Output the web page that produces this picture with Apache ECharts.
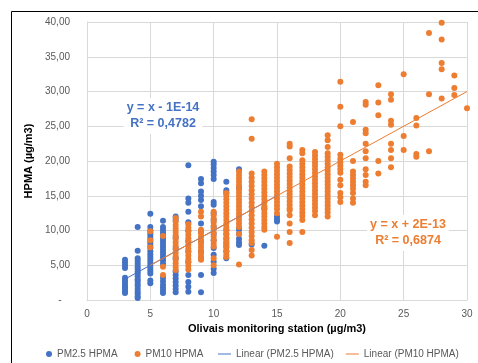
<!DOCTYPE html>
<html>
<head>
<meta charset="utf-8">
<script src="https://cdn.jsdelivr.net/npm/echarts@6/dist/echarts.min.js"></script>
<style>
  html, body { margin: 0; padding: 0; background: #fff; }
  #main { width: 478px; height: 363px; }
</style>
</head>
<body>
<div id="main"></div>
<script>
// station value (x) for each column of points
var pm25X = [3, 4, 5, 6, 7, 8, 9, 10, 11, 12, 13, 14, 15];
var pm25Y = [
  [5.8, 5.4, 5.0, 4.6, 3.2, 2.8, 2.5, 2.1, 1.8, 1.5, 1.2, 1.0],
  [10.5, 7.1, 6.0, 5.6, 5.2, 4.8, 4.5, 4.1, 3.8, 3.4, 3.0, 2.7, 2.3, 2.0, 1.6, 1.2, 0.9, 0.5, 0.3],
  [12.4, 10.5, 10.0, 9.6, 9.2, 8.8, 8.3, 7.9, 7.5, 7.0, 6.6, 6.2, 5.8, 5.4, 5.0, 4.6, 4.2, 3.8, 2.8, 2.4],
  [11.4, 10.5, 10.1, 9.7, 9.3, 8.9, 8.5, 8.1, 7.7, 7.3, 6.9, 6.5, 6.1, 5.7, 5.2, 3.2, 2.7, 2.2, 1.8, 1.4, 1.0],
  [12.0, 11.5, 9.0, 7.5, 6.0, 4.1, 3.6, 3.1, 2.6, 2.1, 1.6, 1.1],
  [19.4, 14.6, 14.0, 12.7, 11.2, 10.0, 8.5, 7.0, 5.5, 3.6, 2.6, 1.9, 1.2],
  [17.4, 16.8, 15.6, 15.0, 14.4, 13.5, 11.0, 9.8, 8.5, 7.0, 6.0, 3.6, 1.1],
  [19.9, 19.5, 19.0, 18.5, 18.0, 17.4, 14.1, 13.7, 12.5, 11.5, 10.5, 9.5, 8.6, 7.5, 6.5, 5.5, 4.5, 3.9],
  [17.0, 15.8, 15.4, 10.1, 9.5, 8.8, 8.2, 7.7, 7.0, 6.0],
  [18.8, 16.1, 10.1, 9.5, 8.8, 8.3, 7.9],
  [8.0],
  [13.2, 7.8],
  [12.0, 11.6, 11.3]
];

var pm10X = [5, 6, 7, 8, 9, 10, 11, 12, 13, 14, 15, 16, 17, 18, 19, 20, 21, 22, 23, 24, 25, 26, 27, 28, 29, 30];
var pm10Y = [
  [9.9, 8.6, 7.6],
  [9.2, 4.8, 3.6],
  [11.8, 11.3, 10.8, 10.3, 9.8, 9.3, 8.8, 8.3, 7.8, 7.3, 6.8, 6.3, 5.8, 5.3, 4.8, 4.3],
  [10.9, 10.4, 9.9, 9.4, 8.9, 8.4, 7.9, 7.4, 6.9, 6.4, 5.9, 5.4, 4.9, 4.4],
  [12.7, 12.0, 10.1, 9.6, 9.1, 8.6, 8.1, 7.6, 7.1, 6.6, 6.1, 5.8],
  [12.7, 12.2, 11.7, 11.2, 10.7, 10.2, 9.7, 9.1, 8.6, 8.1, 7.7, 6.0, 5.0],
  [15.4, 15.0, 14.5, 14.0, 13.5, 13.0, 12.5, 12.0, 11.5, 11.0, 10.5, 10.0, 9.5, 9.0, 8.5, 8.0, 7.5, 7.0, 6.5, 6.2],
  [18.5, 18.0, 17.5, 17.0, 16.5, 16.0, 15.5, 15.0, 14.5, 14.0, 13.5, 13.0, 12.5, 12.0, 11.5, 11.0, 10.5, 9.5, 5.1],
  [26.0, 23.2, 18.2, 17.6, 17.0, 16.4, 15.8, 15.2, 14.6, 14.0, 13.4, 12.8, 12.2, 11.6, 11.0, 10.4, 9.8, 9.2, 8.6, 8.2, 7.2, 6.4],
  [18.5, 18.0, 17.5, 17.0, 16.5, 16.0, 15.5, 15.0, 14.5, 14.0, 13.5, 13.0, 12.5, 12.0, 11.5, 11.0, 10.5, 10.1],
  [19.6, 19.1, 18.6, 18.1, 17.6, 17.1, 16.6, 16.1, 15.6, 15.1, 14.6, 14.1, 13.6, 13.1, 12.5, 9.1],
  [22.5, 22.1, 20.4, 19.2, 18.7, 18.2, 17.7, 17.2, 16.7, 16.2, 15.7, 15.2, 14.7, 14.2, 13.7, 13.2, 12.9, 12.2, 11.0, 9.8, 8.2],
  [21.6, 21.1, 20.1, 19.6, 19.1, 18.6, 18.1, 17.6, 17.1, 16.6, 16.1, 15.6, 15.1, 14.6, 14.1, 13.6, 13.1, 12.6, 12.1, 11.5, 9.8],
  [21.3, 20.8, 20.3, 19.8, 19.3, 18.8, 18.3, 17.8, 17.3, 16.8, 16.3, 15.8, 15.3, 14.8, 14.3, 13.8, 13.3, 12.8, 12.2],
  [23.7, 23.0, 22.0, 21.1, 20.6, 20.1, 19.6, 19.1, 18.6, 18.1, 17.6, 17.1, 16.6, 16.1, 15.6, 15.1, 14.6, 14.1, 13.6, 13.1, 12.6, 12.0],
  [31.4, 27.8, 25.0, 20.9, 20.3, 19.8, 19.3, 18.8, 18.3, 17.3, 16.5, 15.4, 14.8, 14.1],
  [25.6, 20.0, 18.5, 18.0, 17.5, 17.0, 16.5, 16.0, 15.4, 14.6, 14.0],
  [28.5, 28.1, 24.5, 24.0, 22.5, 21.4, 20.4, 18.8, 18.0, 17.0, 16.5],
  [30.9, 28.4, 26.6, 20.0, 18.2],
  [29.6, 28.8, 25.8, 25.2, 22.5, 21.6, 20.4, 19.1],
  [32.5, 23.6, 21.6],
  [26.2, 25.1, 21.0, 20.6],
  [38.4, 29.6, 21.4],
  [39.9, 37.5, 34.1, 33.2, 29.0],
  [32.3, 30.5, 29.5],
  [27.6]
];

// trendline fits as shown on the chart
var fit25 = { slope: 1, intercept: -1e-14, r2: '0,4782' };
var fit10 = { slope: 1, intercept: 2e-13, r2: '0,6874' };

function toPoints(xs, ys) {
  var out = [];
  xs.forEach(function (x, i) {
    ys[i].forEach(function (y) { out.push([x, y]); });
  });
  return out;
}
function trend(xs, fit) {
  var a = Math.min.apply(null, xs), b = Math.max.apply(null, xs);
  return [[a, fit.slope * a + fit.intercept], [b, fit.slope * b + fit.intercept]];
}

var blue = '#4472C4', orange = '#ED7D31', grey = '#595959';
var myChart = echarts.init(document.getElementById('main'));

var option = {
  backgroundColor: '#fff',
  animation: false,
  textStyle: { fontFamily: 'Liberation Sans, Arial, sans-serif' },
  grid: { left: 87, right: 11, top: 22, bottom: 63 },
  xAxis: {
    type: 'value', min: 0, max: 30, interval: 5,
    name: 'Olivais monitoring station (µg/m3)',
    nameLocation: 'middle', nameGap: 21,
    nameTextStyle: { fontSize: 11, fontWeight: 'bold', color: '#000' },
    axisLine: { lineStyle: { color: '#d9d9d9' } },
    axisTick: { show: false },
    axisLabel: { fontSize: 10, color: grey, margin: 9 },
    splitLine: { lineStyle: { color: '#d9d9d9' } }
  },
  yAxis: {
    type: 'value', min: 0, max: 40, interval: 5,
    name: 'HPMA (µg/m3)',
    nameLocation: 'middle', nameGap: 46,
    nameTextStyle: { fontSize: 11, fontWeight: 'bold', color: '#000' },
    axisLine: { show: true, lineStyle: { color: '#d9d9d9' } },
    axisTick: { show: false },
    axisLabel: {
      fontSize: 10, color: grey, margin: 17,
      formatter: function (v) { return v === 0 ? '-   ' : v.toFixed(2).replace('.', ','); }
    },
    splitLine: { lineStyle: { color: '#d9d9d9' } }
  },
  legend: [{
    data: [{ name: 'PM2.5 HPMA', icon: 'circle' }, { name: 'PM10 HPMA', icon: 'circle' }],
    left: 46, bottom: 4, padding: 0, itemWidth: 6, itemHeight: 6, itemGap: 17,
    textStyle: { fontSize: 10, color: grey }
  }, {
    data: [{ name: 'Linear (PM2.5 HPMA)', icon: 'rect' }, { name: 'Linear (PM10 HPMA)', icon: 'rect' }],
    left: 218, bottom: 4, padding: 0, itemWidth: 13, itemHeight: 1, itemGap: 12,
    textStyle: { fontSize: 10, color: grey }
  }],
  graphic: [
    { type: 'rect', shape: { x: 11.5, y: 11.5, width: 480, height: 400 },
      style: { fill: 'none', stroke: '#000', lineWidth: 1 }, silent: true },
    { type: 'text', x: 163, y: 98, z: 10,
      style: { text: 'y = x - 1E-14\nR² = ' + fit25.r2, fill: blue, font: 'bold 12.5px Liberation Sans',
        align: 'center', lineHeight: 16, backgroundColor: '#fff', padding: [2, 3] } },
    { type: 'text', x: 408, y: 215, z: 10,
      style: { text: 'y = x + 2E-13\nR² = ' + fit10.r2, fill: orange, font: 'bold 12.5px Liberation Sans',
        align: 'center', lineHeight: 16, backgroundColor: '#fff', padding: [2, 3] } }
  ],
  series: [
    { name: 'PM2.5 HPMA', type: 'scatter', data: toPoints(pm25X, pm25Y),
      symbolSize: 6, itemStyle: { color: blue, opacity: 1 }, z: 2 },
    { name: 'PM10 HPMA', type: 'scatter', data: toPoints(pm10X, pm10Y),
      symbolSize: 6, itemStyle: { color: orange, opacity: 1 }, z: 3 },
    { name: 'Linear (PM2.5 HPMA)', type: 'line', data: trend(pm25X, fit25),
      symbol: 'none', itemStyle: { color: blue }, lineStyle: { color: blue, width: 1 }, z: 4 },
    { name: 'Linear (PM10 HPMA)', type: 'line', data: trend(pm10X, fit10),
      symbol: 'none', itemStyle: { color: orange }, lineStyle: { color: orange, width: 1 }, z: 5 }
  ]
};
myChart.setOption(option);
</script>
</body>
</html>
